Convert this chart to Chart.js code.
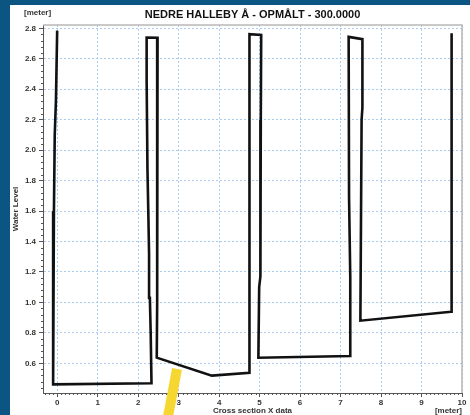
<!DOCTYPE html>
<html lang="en">
<head>
    <meta charset="UTF-8">
    <title>Nedre Halleby Å - cross section</title>
    <script src="https://cdn.jsdelivr.net/npm/chart.js"></script>
    <style>
        html, body {
            margin: 0;
            padding: 0;
            width: 470px;
            height: 415px;
            overflow: hidden;
            background: #0b5582;
            font-family: 'Liberation Sans', Arial, sans-serif;
        }

        .panel {
            position: absolute;
            left: 10px;
            top: 5px;
            width: 460px;
            height: 410px;
            background: #ffffff;
        }

        .chart-box {
            position: absolute;
            left: 0;
            top: 0;
            width: 470px;
            height: 415px;
        }

        /* yellow marker stroke laid over the picture */
        .marker {
            position: absolute;
            left: 172px;
            top: 369px;
            width: 10px;
            height: 52px;
            background: #f6d631;
            transform: rotate(10.7deg);
            transform-origin: 50% 0;
        }
    </style>
</head>
<body>
    <div class="panel"></div>
    <div class="chart-box">
        <canvas id="sectionChart"></canvas>
    </div>
    <div class="marker"></div>

    <script>
        // cross section, traced in drawing order
        const sectionX = [
            0.00, -0.03, -0.06, -0.08, -0.10, -0.10,
            2.33, 2.31, 2.29, 2.27, 2.25, 2.23, 2.21, 2.21,
            2.48, 2.47, 2.46,
            3.82, 4.75,
            4.75, 5.04, 5.03, 5.02, 4.99, 4.97,
            7.24, 7.24, 7.21, 7.20,
            7.54, 7.54, 7.52, 7.49,
            9.73, 9.73, 9.75, 9.75
        ];
        const waterLevel = [
            2.785, 2.33, 2.10, 1.60, 0.80, 0.462,
            0.469, 0.80, 1.03, 1.32, 1.61, 1.88, 2.46, 2.740,
            2.738, 1.00, 0.637,
            0.519, 0.538,
            2.762, 2.756, 2.20, 1.17, 1.10, 0.637,
            0.648, 1.17, 1.69, 2.744,
            2.729, 2.28, 2.20, 0.880,
            0.939, 1.55, 2.15, 2.767
        ];

        const xTickValues = [0, 1, 2, 3, 4, 5, 6, 7, 8, 9, 10];
        const yTickValues = [0.6, 0.8, 1.0, 1.2, 1.4, 1.6, 1.8, 2.0, 2.2, 2.4, 2.6, 2.8];

        const chartTitle = 'NEDRE HALLEBY Å - OPMÅLT - 300.0000';
        const xTitle = 'Cross section X data';
        const yTitle = 'Water Level';
        const unitLabel = '[meter]';

        const points = sectionX.map((x, i) => ({ x: x, y: waterLevel[i] }));

        const axisFont = { family: 'Liberation Sans', size: 8, weight: 'bold', lineHeight: 1 };

        // light frame on top/right, minor ticks and unit labels
        const frameAndMinorTicks = {
            id: 'frameAndMinorTicks',
            beforeDatasetsDraw(chart) {
                const { ctx, chartArea: a, scales: { x, y } } = chart;
                ctx.save();
                ctx.strokeStyle = '#b8b8b8';
                ctx.lineWidth = 1.5;
                ctx.beginPath();
                ctx.moveTo(a.left, a.top);
                ctx.lineTo(a.right, a.top);
                ctx.lineTo(a.right, a.bottom);
                ctx.stroke();

                ctx.strokeStyle = '#555';
                ctx.lineWidth = 1;
                ctx.beginPath();
                for (let i = Math.ceil(x.min * 10); i <= Math.floor(x.max * 10); i++) {
                    if (i % 10 === 0) continue;
                    const px = Math.round(x.getPixelForValue(i / 10)) + 0.5;
                    ctx.moveTo(px, a.bottom);
                    ctx.lineTo(px, a.bottom + 2);
                }
                for (let i = Math.ceil(y.min / 0.04); i <= Math.floor(y.max / 0.04); i++) {
                    if (i % 5 === 0) continue;
                    const py = Math.round(y.getPixelForValue(i * 0.04)) + 0.5;
                    ctx.moveTo(a.left, py);
                    ctx.lineTo(a.left - 2, py);
                }
                ctx.stroke();
                ctx.restore();
            },
            afterDraw(chart) {
                const { ctx, chartArea: a } = chart;
                ctx.save();
                ctx.font = 'bold 8px "Liberation Sans"';
                ctx.fillStyle = '#333';
                ctx.textBaseline = 'middle';
                ctx.textAlign = 'left';
                ctx.fillText(unitLabel, a.left - 19, a.top - 12);
                ctx.textAlign = 'right';
                ctx.fillText(unitLabel, a.right, a.bottom + 18);
                ctx.restore();
            }
        };

        const ctxSection = document.getElementById('sectionChart').getContext('2d');
        new Chart(ctxSection, {
            type: 'scatter',
            data: {
                datasets: [{
                    data: points,
                    showLine: true,
                    borderColor: '#111',
                    borderWidth: 2.6,
                    pointRadius: 0,
                    fill: false,
                    tension: 0
                }]
            },
            options: {
                responsive: true,
                maintainAspectRatio: false,
                animation: false,
                layout: { padding: { left: 10, right: 8, top: 0, bottom: 0 } },
                plugins: {
                    legend: { display: false },
                    tooltip: { enabled: false },
                    title: {
                        display: true,
                        text: chartTitle,
                        fullSize: false,
                        color: '#111',
                        font: { family: 'Liberation Sans', size: 11, weight: 'bold', lineHeight: 1 },
                        padding: { top: 9.5, bottom: 4.5 }
                    }
                },
                scales: {
                    x: {
                        type: 'linear',
                        min: -0.35,
                        max: 10,
                        afterBuildTicks: scale => { scale.ticks = xTickValues.map(v => ({ value: v })); },
                        afterFit: scale => { scale.height = 22; },
                        ticks: { color: '#333', font: axisFont, padding: 2, maxRotation: 0 },
                        grid: {
                            color: '#a8cdf3',
                            tickColor: '#555',
                            tickLength: 4,
                            tickBorderDash: []
                        },
                        border: { color: '#555', width: 1, dash: [2, 2] },
                        title: { display: true, text: xTitle, color: '#333', font: axisFont, padding: 0 }
                    },
                    y: {
                        type: 'linear',
                        min: 0.405,
                        max: 2.822,
                        afterBuildTicks: scale => { scale.ticks = yTickValues.map(v => ({ value: v })); },
                        afterFit: scale => { scale.width = 33; },
                        ticks: { color: '#333', font: axisFont, padding: 3, callback: v => v.toFixed(1) },
                        grid: {
                            color: '#a8cdf3',
                            tickColor: '#555',
                            tickLength: 4,
                            tickBorderDash: []
                        },
                        border: { color: '#555', width: 1, dash: [2, 2] },
                        title: { display: true, text: yTitle, color: '#333', font: axisFont, padding: { top: 2, bottom: 0 } }
                    }
                }
            },
            plugins: [frameAndMinorTicks]
        });
    </script>
</body>
</html>
